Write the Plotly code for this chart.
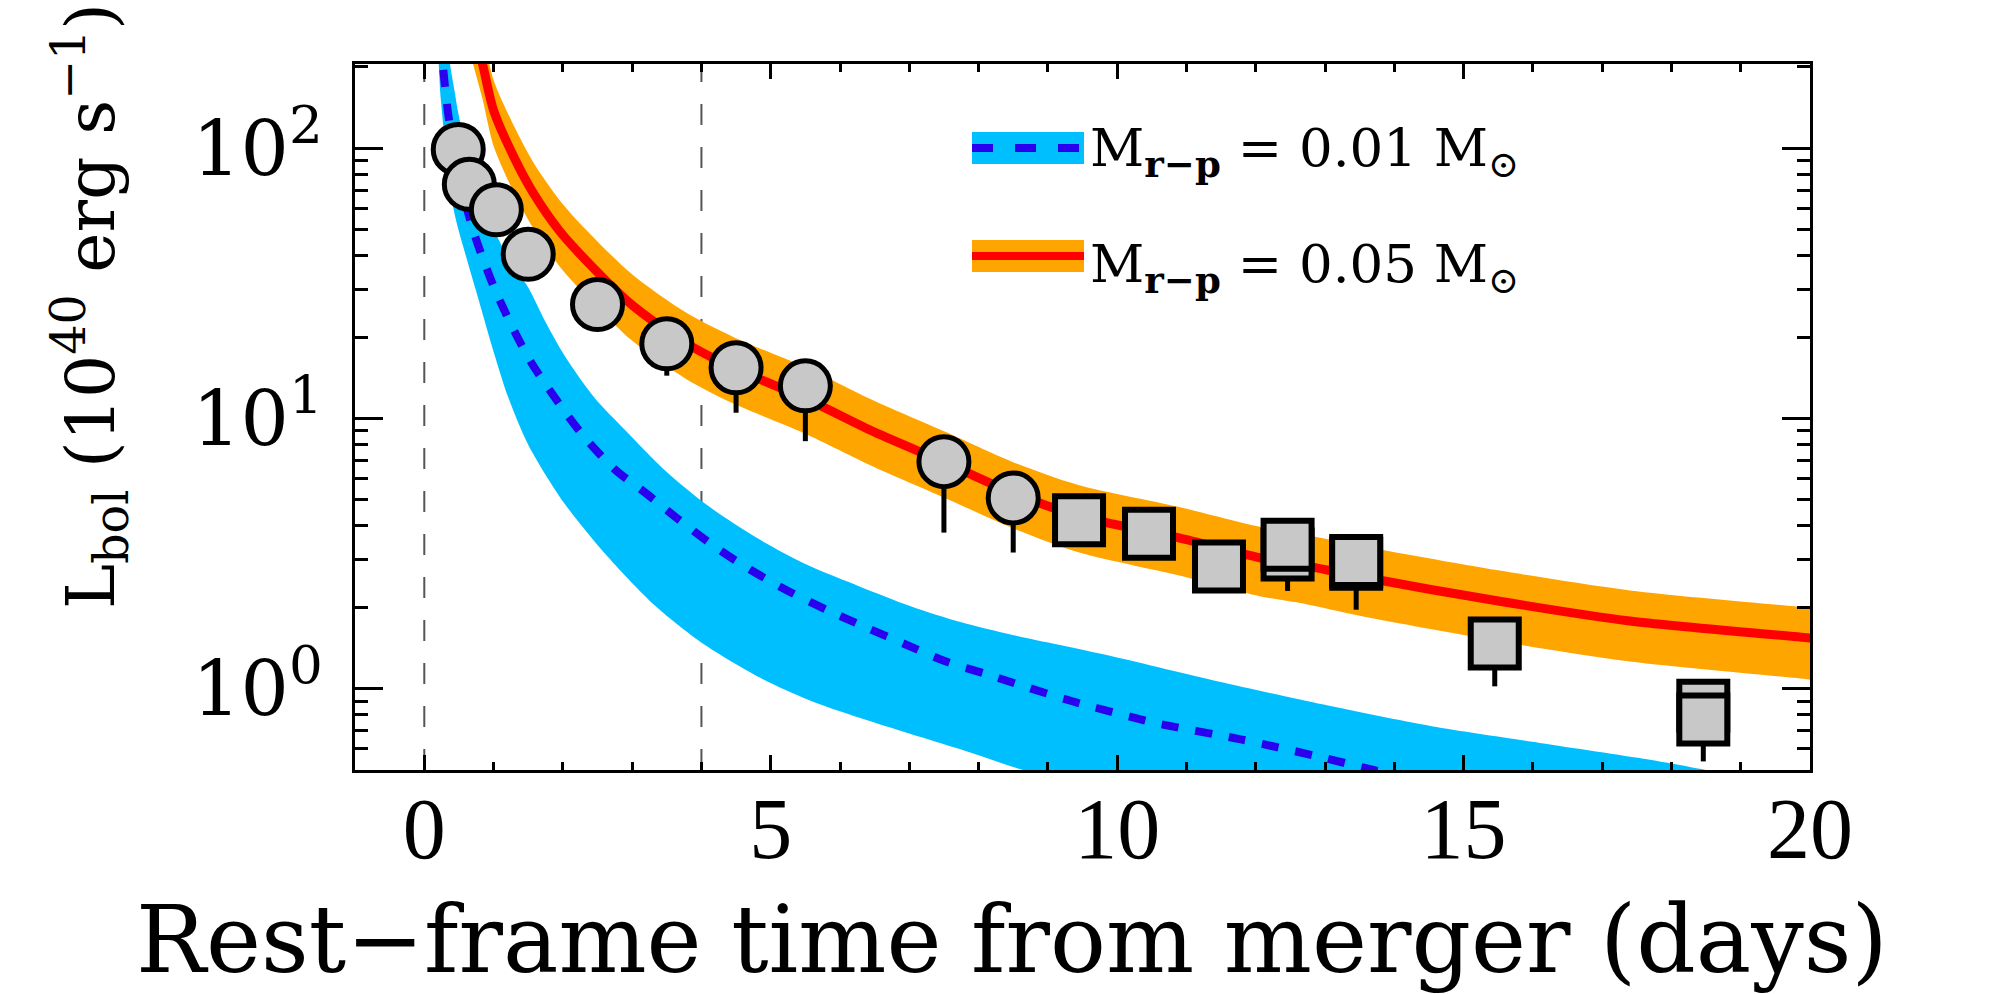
import math
import plotly.graph_objects as go

# ---------------- data ----------------
# observed points (rest-frame days, 1e40 erg/s)
circ_t = [0.49, 0.65, 1.04, 1.50, 2.50, 3.50, 4.50, 5.50, 7.50, 8.50]
circ_L = [99, 73.5, 59.2, 40.5, 26.4, 18.9, 15.4, 13.2, 6.92, 5.08]
circ_lo = [99, 73.5, 59.2, 40.5, 26.4, 14.4, 10.5, 8.24, 3.78, 3.19]   # lower end of bars

sq_t = [9.45, 10.46, 11.47, 12.46, 12.46, 13.45, 13.45, 15.45, 18.46, 18.46]
sq_L = [4.20, 3.74, 2.83, 3.14, 3.41, 2.90, 2.97, 1.47, 0.865, 0.769]
sq_lo = [4.20, 3.74, 2.83, 2.30, 3.41, 1.96, 2.97, 1.02, 0.865, 0.538]

# model M_r-p = 0.05 Msun : central curve and band edges
m05_t = [0.60, 0.84, 1.00, 1.30, 1.57, 1.95, 2.32, 2.99, 3.76, 4.48, 5.49, 6.50,
         7.51, 8.48, 9.44, 10.88, 12.06, 12.70, 13.50, 15.50, 17.40, 20.0, 20.6]
m05_mid = [345, 205, 138, 92, 68.5, 49.5, 38.8, 26.4, 19.1, 15.3, 11.9, 8.9,
           6.88, 5.32, 4.36, 3.62, 3.05, 2.86, 2.60, 2.11, 1.78, 1.54, 1.48]
m05_hi = [450, 267, 179, 120, 89, 64.4, 50.4, 34.3, 24.8, 19.9, 15.5, 11.6,
          8.94, 6.92, 5.67, 4.71, 3.97, 3.72, 3.38, 2.74, 2.31, 1.99, 1.91]
m05_lo = [255, 152, 102, 68, 50.7, 36.6, 28.7, 19.5, 14.1, 11.3, 8.8, 6.6,
          5.09, 3.94, 3.2, 2.63, 2.2, 2.06, 1.86, 1.5, 1.26, 1.08, 1.03]

# model M_r-p = 0.01 Msun : central (dashed) curve
m01_t = [0.24, 0.27, 0.35, 0.50, 0.63, 0.78, 1.02, 1.31, 1.55, 1.93, 2.30, 2.75, 3.19,
         3.67, 4.18, 4.70, 5.25, 5.84, 6.39, 6.94, 7.53, 8.12, 8.71, 9.34, 10.55,
         11.80, 12.98, 13.70, 14.30]
m01_mid = [260, 201, 131, 80, 58, 43.5, 30.0, 20.8, 16.0, 11.5, 8.6, 6.47, 5.31,
           4.23, 3.37, 2.76, 2.30, 1.94, 1.68, 1.46, 1.26, 1.13, 1.01, 0.90, 0.747,
           0.648, 0.555, 0.50, 0.47]
# band edges
m01_hi_t = [0.33, 0.38, 0.44, 0.49, 0.75, 1.00, 1.25, 1.50, 1.74, 2.03, 2.46, 2.89,
            3.48, 4.07, 4.81, 5.54, 6.28, 7.02, 7.75, 8.49, 9.80, 11.41, 12.98,
            14.54, 16.10, 17.67, 18.50, 19.60]
m01_hi = [245, 198, 161, 135, 72, 50, 38, 30.5, 23, 17, 11.9, 9.1,
          6.4, 4.8, 3.6, 2.86, 2.39, 2.02, 1.76, 1.58, 1.34, 1.07, 0.873,
          0.726, 0.63, 0.547, 0.50, 0.44]
m01_lo_t = [0.19, 0.21, 0.24, 0.42, 0.60, 0.75, 1.02, 1.21, 1.50, 2.01, 2.60, 3.34,
            4.07, 4.81, 5.54, 6.28, 7.02, 7.75, 8.64, 9.50]
m01_lo = [250, 201, 150, 60, 40, 29.5, 17, 12, 8.0, 4.9, 3.18, 2.02,
          1.44, 1.11, 0.91, 0.78, 0.68, 0.595, 0.50, 0.44]

x_ticks = [0, 5, 10, 15, 20]
y_ticks = [1, 10, 100]
y_ticktext = ["10<sup>0</sup>", "10<sup>1</sup>", "10<sup>2</sup>"]
vlines_t = [0, 4]

# ---------------- styling ----------------
CYAN = "#00BFFF"
ORANGE = "#FFA500"
RED = "#FF0000"
BLUE = "#2a00ee"
GRAY = "#C8C8C8"
SERIF_N = "Liberation Serif, DejaVu Serif, serif"
SERIF_W = "DejaVu Serif, Liberation Serif, serif"

fig = go.Figure()

# bands
fig.add_trace(go.Scatter(
    x=m01_hi_t + m01_lo_t[::-1], y=m01_hi + m01_lo[::-1],
    mode="lines", fill="toself", fillcolor=CYAN,
    line=dict(width=0, color=CYAN, shape="spline", smoothing=0.8),
    hoverinfo="skip", showlegend=False))
fig.add_trace(go.Scatter(
    x=m05_t + m05_t[::-1], y=m05_hi + m05_lo[::-1],
    mode="lines", fill="toself", fillcolor=ORANGE,
    line=dict(width=0, color=ORANGE, shape="spline", smoothing=0.8),
    hoverinfo="skip", showlegend=False))

# central curves
fig.add_trace(go.Scatter(
    x=m01_t, y=m01_mid, mode="lines",
    line=dict(color=BLUE, width=8, dash="17px,17px", shape="spline", smoothing=0.8),
    hoverinfo="skip", showlegend=False))
fig.add_trace(go.Scatter(
    x=m05_t, y=m05_mid, mode="lines",
    line=dict(color=RED, width=9, shape="spline", smoothing=0.8),
    hoverinfo="skip", showlegend=False))

# observed points
fig.add_trace(go.Scatter(
    x=circ_t, y=circ_L, mode="markers",
    marker=dict(symbol="circle", size=50, color=GRAY, line=dict(color="black", width=5)),
    error_y=dict(type="data", symmetric=False,
                 array=[0] * len(circ_L),
                 arrayminus=[v - lo for v, lo in zip(circ_L, circ_lo)],
                 color="black", thickness=5, width=0),
    showlegend=False))
fig.add_trace(go.Scatter(
    x=sq_t, y=sq_L, mode="markers",
    marker=dict(symbol="square", size=48, color=GRAY, line=dict(color="black", width=6)),
    error_y=dict(type="data", symmetric=False,
                 array=[0] * len(sq_L),
                 arrayminus=[v - lo for v, lo in zip(sq_L, sq_lo)],
                 color="black", thickness=5, width=0),
    showlegend=False))

# vertical dashed reference lines
for xv in vlines_t:
    fig.add_vline(x=xv, line=dict(color="#555555", width=2, dash="21px,22px"), layer="below")

# ---------------- custom legend ----------------
def px_x(p):
    return (p - 355) / 1455.0


def px_y(p):
    return (770 - p) / 706.0


fig.add_shape(type="rect", xref="paper", yref="paper",
              x0=px_x(972), x1=px_x(1084), y0=px_y(164), y1=px_y(132),
              fillcolor=CYAN, line=dict(width=0), layer="above")
fig.add_shape(type="line", xref="paper", yref="paper",
              x0=px_x(972), x1=px_x(1084), y0=px_y(148), y1=px_y(148),
              line=dict(color=BLUE, width=8, dash="21px,22px"), layer="above")
fig.add_shape(type="rect", xref="paper", yref="paper",
              x0=px_x(972), x1=px_x(1084), y0=px_y(272), y1=px_y(240),
              fillcolor=ORANGE, line=dict(width=0), layer="above")
fig.add_shape(type="line", xref="paper", yref="paper",
              x0=px_x(972), x1=px_x(1084), y0=px_y(256), y1=px_y(256),
              line=dict(color=RED, width=8), layer="above")

NB = "\u00a0"
leg1 = "M<sub><b>r\u2212p</b></sub>" + NB + "=" + NB + "0.01" + NB + "M<sub>\u2299</sub>"
leg2 = "M<sub><b>r\u2212p</b></sub>" + NB + "=" + NB + "0.05" + NB + "M<sub>\u2299</sub>"
for txt, yc in [(leg1, 151), (leg2, 267)]:
    fig.add_annotation(text=txt, xref="paper", yref="paper", x=px_x(1088), y=px_y(yc),
                       xanchor="left", yanchor="middle", showarrow=False,
                       font=dict(family=SERIF_W, size=53, color="black"))

# axis titles
fig.add_annotation(text="Rest\u2212frame time from merger (days)", xref="paper", yref="paper",
                   x=px_x(1012), y=px_y(940), xanchor="center", yanchor="middle",
                   showarrow=False, font=dict(family=SERIF_W, size=93, color="black"))
fig.add_annotation(text="L<sub>bol</sub> (10<sup>40</sup> erg s<sup>\u22121</sup>)",
                   xref="paper", yref="paper", x=px_x(90), y=px_y(306),
                   xanchor="center", yanchor="middle", textangle=-90,
                   showarrow=False, font=dict(family=SERIF_W, size=68, color="black"))

ymin_minor = []
for dec in [0.1, 1, 10, 100]:
    for k in range(2, 10):
        v = k * dec
        if 0.5 <= v <= 205:
            ymin_minor.append(v)

fig.update_layout(
    width=2012, height=994,
    margin=dict(l=355, r=202, t=64, b=224),
    paper_bgcolor="white", plot_bgcolor="white",
    showlegend=False,
    xaxis=dict(range=[-1, 20], tickvals=x_ticks, ticktext=[str(v) for v in x_ticks],
               ticks="inside", ticklen=15, tickwidth=3, tickcolor="black",
               showline=True, linewidth=3, linecolor="black", mirror="allticks",
               showgrid=False, zeroline=False,
               tickfont=dict(family=SERIF_N, size=86, color="black"),
               ticklabelstandoff=-18,
               minor=dict(ticks="inside", ticklen=8, tickwidth=2.5, tickcolor="black",
                          dtick=1, tick0=0, showgrid=False)),
    yaxis=dict(type="log", range=[math.log10(0.5), math.log10(205)],
               tickvals=y_ticks, ticktext=y_ticktext,
               ticks="inside", ticklen=28, tickwidth=3, tickcolor="black",
               showline=True, linewidth=3, linecolor="black", mirror="allticks",
               showgrid=False, zeroline=False,
               tickfont=dict(family=SERIF_W, size=76, color="black"),
               ticklabelstandoff=14,
               minor=dict(ticks="inside", ticklen=13, tickwidth=2.5, tickcolor="black",
                          tickvals=ymin_minor, showgrid=False)),
)

fig.write_html("out.html")
